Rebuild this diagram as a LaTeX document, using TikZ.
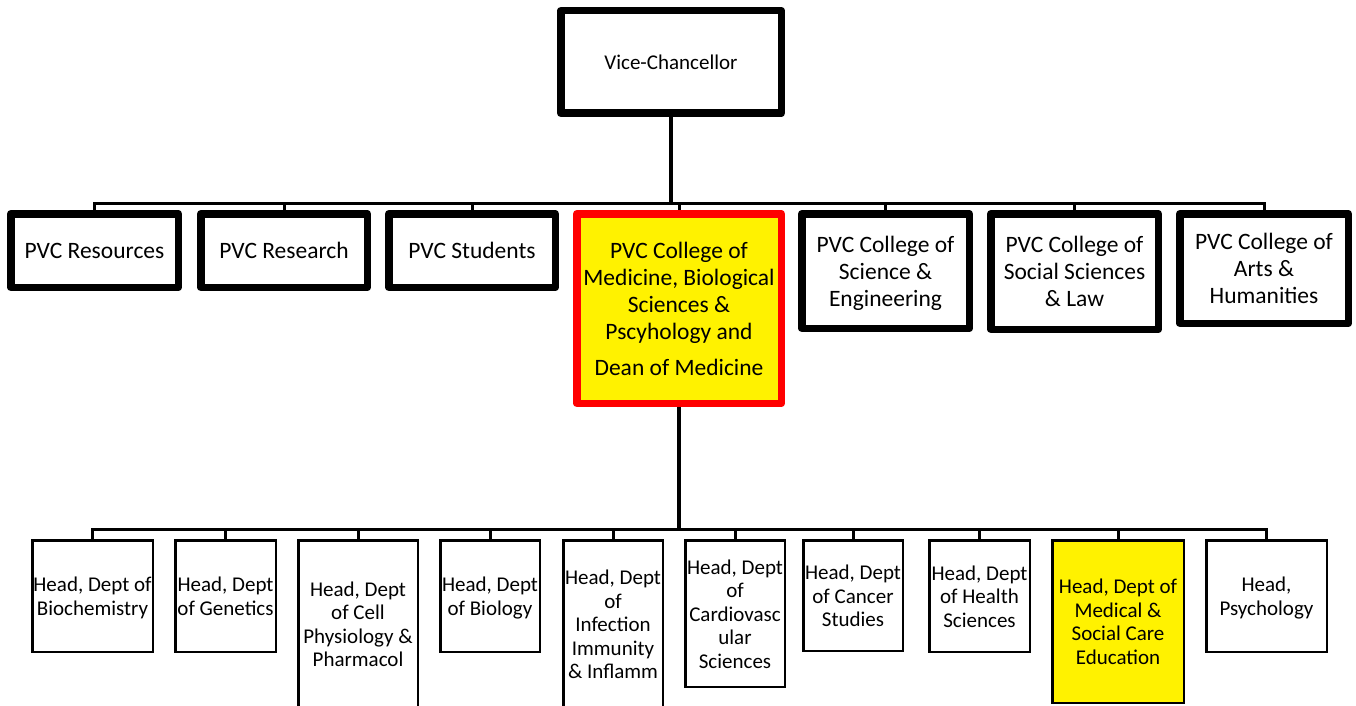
\documentclass[tikz,border=0pt]{standalone}
\usepackage{fontspec}
\setmainfont{Carlito}
% centred multi-line label that does not widen its box, set a little low
\newcommand\lbl[1]{\makebox[0pt]{\raisebox{-3pt}[\height][\depth]{\begin{tabular}{@{}c@{}}#1\end{tabular}}}}
\begin{document}
\begin{tikzpicture}[x=1pt,y=-1pt,
  pvc/.style={draw, line width=7.5pt, line join=round, fill=white, inner sep=0pt,
    font=\fontsize{23.5}{27}\selectfont},
  vcbox/.style={pvc, font=\fontsize{21}{25}\selectfont},
  hilite/.style={pvc, draw=red, fill=yellow},
  head/.style={draw, line width=2.5pt, fill=white, inner sep=0pt,
    font=\fontsize{21}{23.5}\selectfont},
  headhi/.style={head, fill=yellow},
  link/.style={line width=3pt},
  stem/.style={line width=4pt}]
\clip (0,0) rectangle (1356,706);
\fill[white] (0,0) rectangle (1356,706);

% top
\node[vcbox, minimum width=220.5pt, minimum height=102.5pt] (vc) at (671,62) {\lbl{Vice-Chancellor}};

% pro-vice-chancellors
\node[pvc, minimum width=167.5pt, minimum height=73.5pt] (res) at (94.5,250.5) {\lbl{PVC Resources}};
\node[pvc, minimum width=166.5pt, minimum height=73.5pt] (rsch) at (284,250.5) {\lbl{PVC Research}};
\node[pvc, minimum width=166.5pt, minimum height=73.5pt] (stu) at (472,250.5) {\lbl{PVC Students}};
\node[hilite, minimum width=204.5pt, minimum height=189.5pt] (med) at (679,308.5)
  {\lbl{PVC College of\\Medicine, Biological\\Sciences \&\\Pscyhology and\\[9pt]Dean of Medicine}};
\node[pvc, minimum width=167.5pt, minimum height=114.5pt] (sci) at (885.5,271) {\lbl{PVC College of\\Science \&\\Engineering}};
\node[pvc, minimum width=167.5pt, minimum height=115.5pt] (soc) at (1074.5,271.5) {\lbl{PVC College of\\Social Sciences\\\& Law}};
\node[pvc, minimum width=168.5pt, minimum height=109.5pt] (art) at (1264,268.5) {\lbl{PVC College of\\Arts \&\\Humanities}};

% heads of department
\node[head, minimum width=120.5pt, minimum height=111.5pt] (bio) at (92.5,596) {\lbl{Head, Dept of\\Biochemistry}};
\node[head, minimum width=100.5pt, minimum height=111.5pt] (gen) at (225.5,596) {\lbl{Head, Dept\\of Genetics}};
\node[head, minimum width=119.5pt, minimum height=167.5pt] (cell) at (358,624) {\lbl{Head, Dept\\of Cell\\Physiology \&\\Pharmacol}};
\node[head, minimum width=99.5pt, minimum height=111.5pt] (biol) at (490,596) {\lbl{Head, Dept\\of Biology}};
\node[head, minimum width=99.5pt, minimum height=167.5pt] (inf) at (613,624) {\lbl{Head, Dept\\of\\Infection\\Immunity\\\& Inflamm}};
\node[head, minimum width=99.5pt, minimum height=146.5pt] (card) at (735,613.5) {\lbl{Head, Dept\\of\\Cardiovasc\\ular\\Sciences}};
\node[head, minimum width=99.5pt, minimum height=110.5pt] (canc) at (853,595.5) {\lbl{Head, Dept\\of Cancer\\Studies}};
\node[head, minimum width=100.5pt, minimum height=111.5pt] (hlth) at (979.5,596) {\lbl{Head, Dept\\of Health\\Sciences}};
\node[headhi, minimum width=131.5pt, minimum height=162.5pt] (medu) at (1118,621.5) {\lbl{Head, Dept of\\Medical \&\\Social Care\\Education}};
\node[head, minimum width=120.5pt, minimum height=111.5pt] (psy) at (1266.5,596) {\lbl{Head,\\Psychology}};

% connectors, upper tier
\coordinate (b1) at (671,203);
\draw[stem] (vc.south) -- (vc.south |- b1);
\draw[link] (res.north) -- (res.north |- b1) -- (art.north |- b1) -- (art.north);
\foreach \n in {rsch,stu,med,sci,soc}
  \draw[link] (\n.north) -- (\n.north |- b1);

% connectors, lower tier
\coordinate (b2) at (679,529);
\draw[stem] (med.south) -- (med.south |- b2);
\draw[link] (bio.north) -- (bio.north |- b2) -- (psy.north |- b2) -- (psy.north);
\foreach \n in {gen,cell,biol,inf,card,canc,hlth,medu}
  \draw[link] (\n.north) -- (\n.north |- b2);
\end{tikzpicture}
\end{document}
